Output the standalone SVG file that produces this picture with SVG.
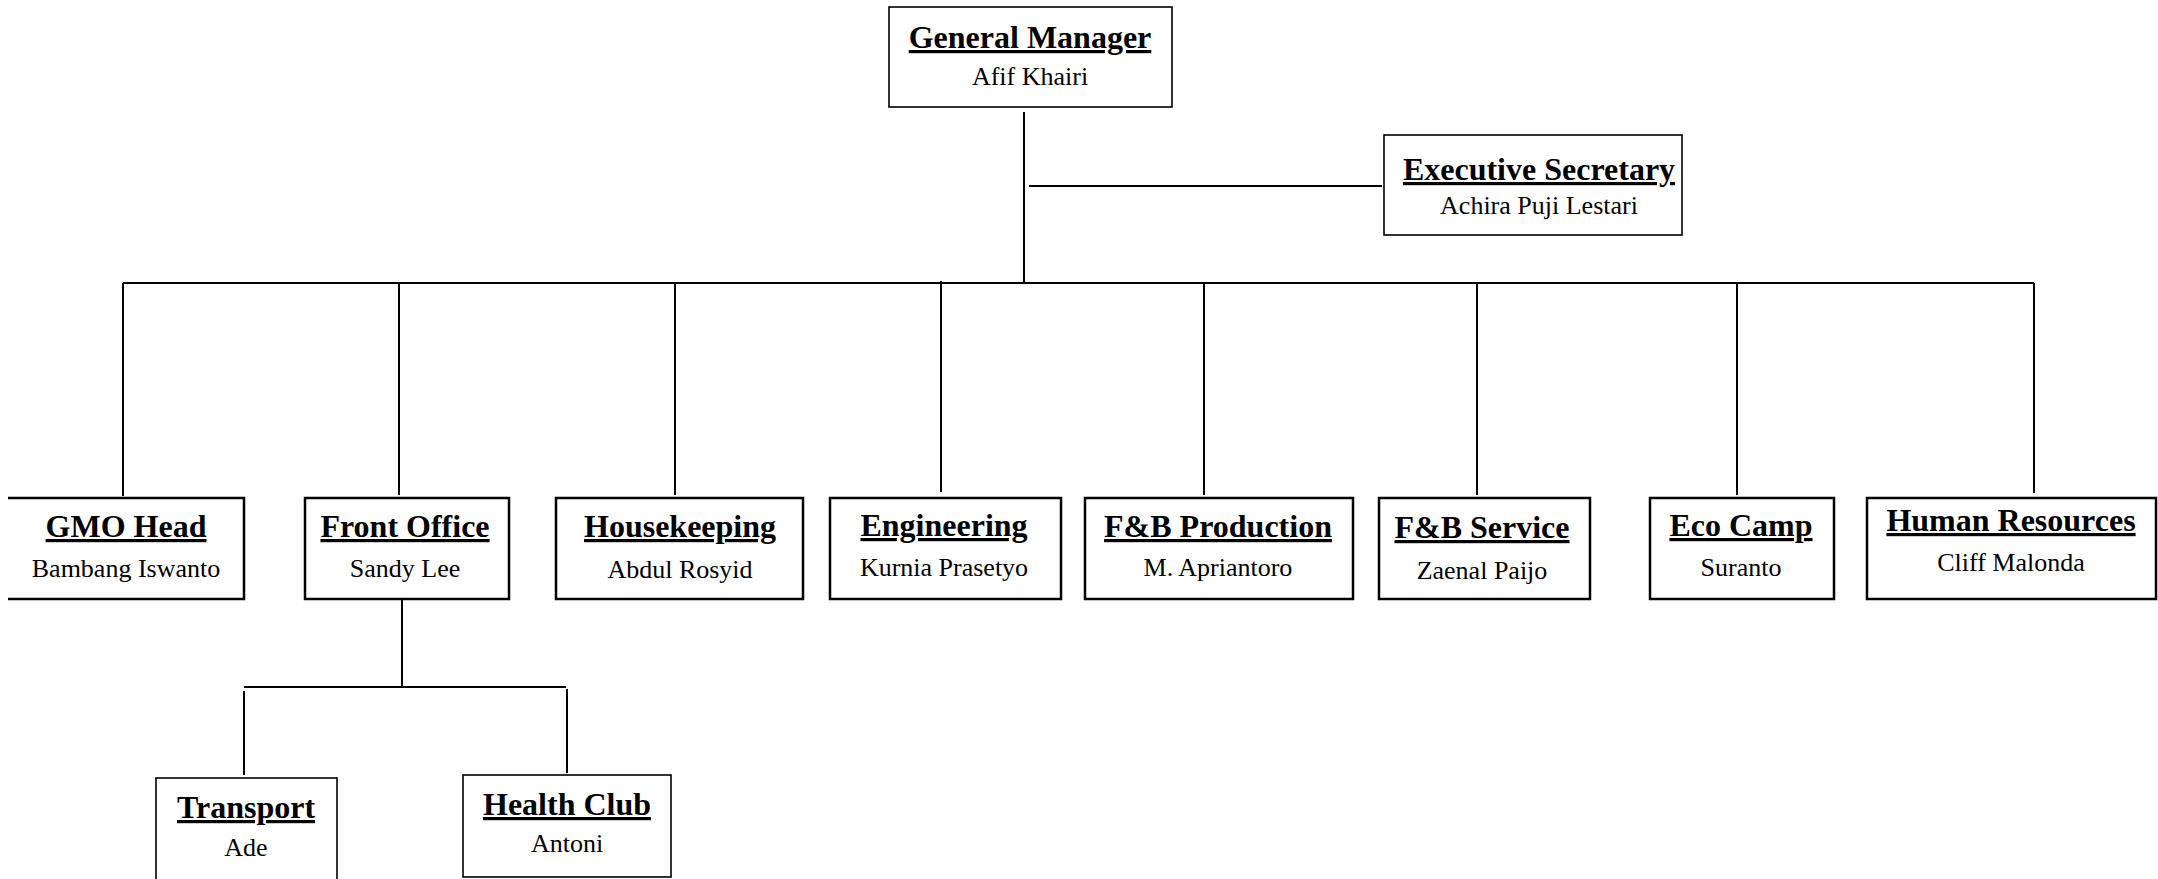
<svg xmlns="http://www.w3.org/2000/svg" width="2158" height="879" viewBox="0 0 2158 879">
<style>
.bg{fill:#ffffff}
.box{fill:#ffffff;stroke:#000;stroke-width:2.5}
.thin{fill:#ffffff;stroke:#000;stroke-width:1.6}
.ln{stroke:#000;stroke-width:2;fill:none}
.t{font-family:"Liberation Serif","Times New Roman",serif;font-weight:bold;font-size:32px;text-anchor:middle;fill:#000;text-decoration:underline;text-decoration-thickness:4px;text-underline-offset:3px}
.n{font-family:"Liberation Serif","Times New Roman",serif;font-size:26px;text-anchor:middle;fill:#000}
</style>
<rect class="bg" x="0" y="0" width="2158" height="879"/>
<g id="connectors">
<line class="ln" x1="1024" y1="112" x2="1024" y2="283"/>
<line class="ln" x1="1029" y1="186" x2="1382" y2="186"/>
<line class="ln" x1="123" y1="283" x2="2034" y2="283"/>
<line class="ln" x1="123" y1="283" x2="123" y2="496"/>
<line class="ln" x1="399" y1="283" x2="399" y2="495"/>
<line class="ln" x1="675" y1="283" x2="675" y2="495"/>
<line class="ln" x1="941" y1="281" x2="941" y2="492"/>
<line class="ln" x1="1204" y1="283" x2="1204" y2="495"/>
<line class="ln" x1="1477" y1="283" x2="1477" y2="495"/>
<line class="ln" x1="1737" y1="283" x2="1737" y2="495"/>
<line class="ln" x1="2034" y1="283" x2="2034" y2="493"/>
<line class="ln" x1="402" y1="599" x2="402" y2="687"/>
<line class="ln" x1="244" y1="687" x2="566" y2="687"/>
<line class="ln" x1="244" y1="691" x2="244" y2="775"/>
<line class="ln" x1="567" y1="689" x2="567" y2="773"/>
</g>
<g id="general-manager">
<rect class="thin" x="889" y="7" width="283" height="100"/>
<text class="t" x="1030" y="48">General Manager</text>
<text class="n" x="1030" y="85">Afif Khairi</text>
</g>
<g id="executive-secretary">
<rect class="thin" x="1384" y="135" width="298" height="100"/>
<text class="t" x="1539" y="180">Executive Secretary</text>
<text class="n" x="1539" y="214">Achira Puji Lestari</text>
</g>
<g id="gmo-head">
<path class="box" d="M8,498 H244 V599 H8"/>
<text class="t" x="126" y="537">GMO Head</text>
<text class="n" x="126" y="577">Bambang Iswanto</text>
</g>
<g id="front-office">
<rect class="box" x="305" y="498" width="204" height="101"/>
<text class="t" x="405" y="537">Front Office</text>
<text class="n" x="405" y="577">Sandy Lee</text>
</g>
<g id="housekeeping">
<rect class="box" x="556" y="498" width="247" height="101"/>
<text class="t" x="680" y="537">Housekeeping</text>
<text class="n" x="680" y="578">Abdul Rosyid</text>
</g>
<g id="engineering">
<rect class="box" x="830" y="498" width="231" height="101"/>
<text class="t" x="944" y="536">Engineering</text>
<text class="n" x="944" y="576">Kurnia Prasetyo</text>
</g>
<g id="fb-production">
<rect class="box" x="1085" y="498" width="268" height="101"/>
<text class="t" x="1218" y="537">F&amp;B Production</text>
<text class="n" x="1218" y="576">M. Apriantoro</text>
</g>
<g id="fb-service">
<rect class="box" x="1379" y="498" width="211" height="101"/>
<text class="t" x="1482" y="538">F&amp;B Service</text>
<text class="n" x="1482" y="579">Zaenal Paijo</text>
</g>
<g id="eco-camp">
<rect class="box" x="1650" y="498" width="184" height="101"/>
<text class="t" x="1741" y="536">Eco Camp</text>
<text class="n" x="1741" y="576">Suranto</text>
</g>
<g id="human-resources">
<rect class="box" x="1867" y="498" width="289" height="101"/>
<text class="t" x="2011" y="531">Human Resources</text>
<text class="n" x="2011" y="571">Cliff Malonda</text>
</g>
<g id="transport">
<rect class="thin" x="156" y="778" width="181" height="110"/>
<text class="t" x="246" y="818">Transport</text>
<text class="n" x="246" y="856">Ade</text>
</g>
<g id="health-club">
<rect class="thin" x="463" y="775" width="208" height="102"/>
<text class="t" x="567" y="815">Health Club</text>
<text class="n" x="567" y="852">Antoni</text>
</g>
</svg>
